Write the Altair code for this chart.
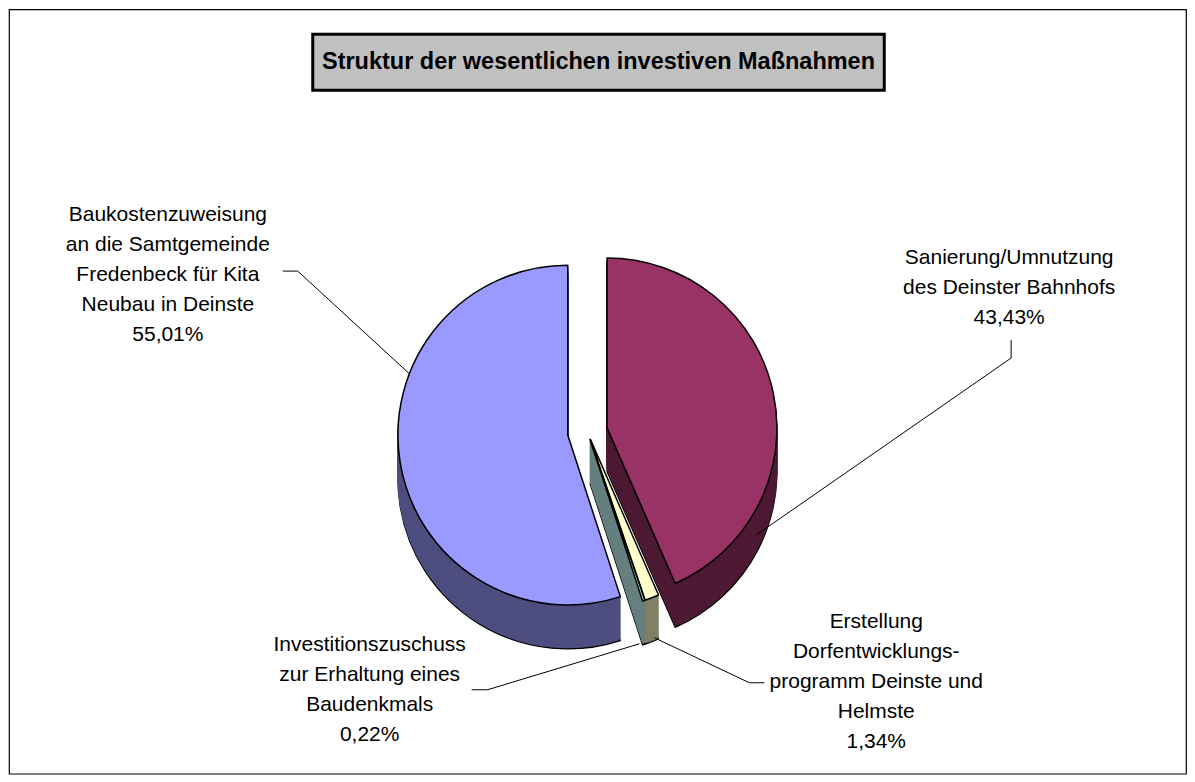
import math
import altair as alt
import pandas as pd

# ---------------- data ----------------
categories = [
    "Sanierung/Umnutzung des Deinster Bahnhofs",
    "Erstellung Dorfentwicklungsprogramm Deinste und Helmste",
    "Investitionszuschuss zur Erhaltung eines Baudenkmals",
    "Baukostenzuweisung an die Samtgemeinde Fredenbeck für Kita Neubau in Deinste",
]
values = [43.43, 1.34, 0.22, 55.01]
label_lines = [
    ["Sanierung/Umnutzung", "des Deinster Bahnhofs"],
    ["Erstellung", "Dorfentwicklungs-", "programm Deinste und", "Helmste"],
    ["Investitionszuschuss", "zur Erhaltung eines", "Baudenkmals"],
    ["Baukostenzuweisung", "an die Samtgemeinde", "Fredenbeck für Kita", "Neubau in Deinste"],
]
title_text = "Struktur der wesentlichen investiven Maßnahmen"

# ---------------- style ----------------
top_colors = ["#993366", "#FFFFCC", "#CCFFFF", "#9999FF"]
side_colors = ["#4D1933", "#808066", "#668080", "#4D4D80"]
FONT = "Liberation Sans, Arial, sans-serif"
OFF = 9           # page -> view offset
CX, CY = 588 - OFF, 432 - OFF
R = 170
DEPTH = 44
STEP = 2
explode = [20, 8, 8, 20]

total = sum(values)
offsets = []
cum = 0.0
for v, e in zip(values, explode):
    mid = (cum + v / 2) / total * 2 * math.pi
    offsets.append((e * math.sin(mid), -e * math.cos(mid)))
    cum += v

df = pd.DataFrame({"category": categories, "value": values, "order": list(range(len(values)))})

base = (
    alt.Chart(df)
    .transform_joinaggregate(total="sum(value)")
    .transform_window(cum="sum(value)", sort=[alt.SortField("order")], frame=[None, 0])
    .transform_calculate(start="(datum.cum - datum.value) / datum.total",
                         end="datum.cum / datum.total")
)

theta_enc = alt.Theta("start:Q", scale=alt.Scale(domain=[0, 1], range=[0, 2 * math.pi]), stack=None)


def arc(i, dy, fill, stroke, sw):
    ox, oy = offsets[i]
    return (
        base.transform_filter(alt.datum.order == i)
        .mark_arc(radius=R, fill=fill, stroke=stroke, strokeWidth=sw, strokeJoin="round")
        .encode(theta=theta_enc, theta2=alt.Theta2("end:Q"),
                x=alt.value(CX + ox), y=alt.value(CY + oy + dy))
    )


layers = []
# side extrusion (deepest first)
for dy in range(DEPTH, 0, -STEP):
    for i in range(len(values)):
        if dy == DEPTH:
            layers.append(arc(i, dy, side_colors[i], "black", 1.2))
        else:
            layers.append(arc(i, dy, side_colors[i], side_colors[i], 1))
# top faces
for i in range(len(values)):
    layers.append(arc(i, 0, top_colors[i], "black", 1.5))

one = pd.DataFrame({"a": [0]})


def seg(x1, y1, x2, y2):
    return alt.Chart(one).mark_rule(color="black", strokeWidth=1).encode(
        x=alt.value(x1 - OFF), y=alt.value(y1 - OFF),
        x2=alt.value(x2 - OFF), y2=alt.value(y2 - OFF))


# leader lines (page coordinates)
layers += [
    seg(283, 271, 298, 271), seg(298, 271, 410, 374),
    seg(1012, 340, 1012, 358), seg(1012, 358, 757, 535),
    seg(472, 690, 488, 690), seg(488, 690, 640, 644),
    seg(765, 683, 750, 683), seg(750, 683, 655, 638),
]

# labels: position of the centre of the first line (page coordinates)
label_pos = [(1010, 258), (877, 622), (370, 645), (168, 215)]
for i, lines in enumerate(label_lines):
    pct = f"{values[i]:.2f}".replace(".", ",") + "%"
    txt = "\n".join(lines + [pct])
    lx, ly = label_pos[i]
    layers.append(
        alt.Chart(pd.DataFrame({"label": [txt]}))
        .mark_text(font=FONT, fontSize=21, lineBreak="\n", lineHeight=30,
                   align="center", baseline="middle", color="black")
        .encode(text="label:N", x=alt.value(lx - OFF), y=alt.value(ly - OFF))
    )

# title box
tdf = pd.DataFrame({"t": [title_text]})
layers.append(
    alt.Chart(tdf).mark_rect(fill="#C0C0C0", stroke="black", strokeWidth=3).encode(
        x=alt.value(313 - OFF), x2=alt.value(885 - OFF),
        y=alt.value(34 - OFF), y2=alt.value(90 - OFF))
)
layers.append(
    alt.Chart(tdf).mark_text(font=FONT, fontSize=23.5, fontWeight="bold", align="center",
                             baseline="middle", color="black").encode(
        text="t:N", x=alt.value(599 - OFF), y=alt.value(62 - OFF))
)

chart = (
    alt.layer(*layers)
    .properties(width=1178, height=765, autosize="none",
                padding={"left": 1, "top": 1, "right": 1, "bottom": 1})
    .configure_view(stroke="black", strokeWidth=1.2)
)

chart.save("out.html", embed_options={"renderer": "svg", "actions": False})
